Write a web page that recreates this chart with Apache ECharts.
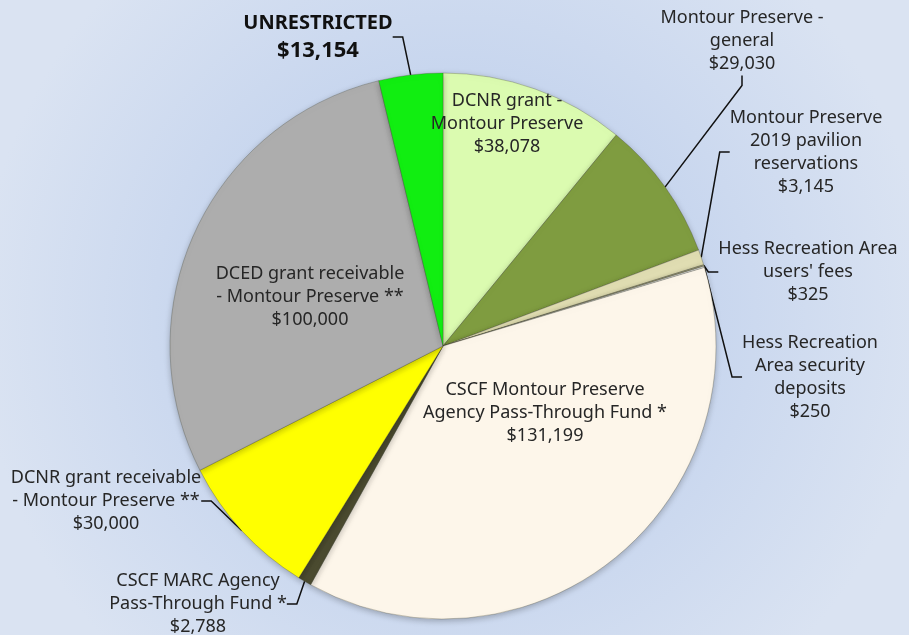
<!DOCTYPE html>
<html lang="en">
<head>
    <meta charset="UTF-8">
    <title>Funds pie</title>
    <style>
        html, body { margin: 0; padding: 0; }
        #main { width: 909px; height: 635px; }
    </style>
</head>
<body>
<script src="https://cdn.jsdelivr.net/npm/echarts@6/dist/echarts.min.js"></script>
<div id="main"></div>
<script>
    // categories, clockwise from 12 o'clock
    var names = [
        'DCNR grant -\nMontour Preserve',
        'Montour Preserve -\ngeneral',
        'Montour Preserve\n2019 pavilion\nreservations',
        'Hess Recreation Area\nusers\' fees',
        'Hess Recreation\nArea security\ndeposits',
        'CSCF Montour Preserve\nAgency Pass-Through Fund *',
        'CSCF MARC Agency\nPass-Through Fund *',
        'DCNR grant receivable\n- Montour Preserve **',
        'DCED grant receivable\n- Montour Preserve **',
        'UNRESTRICTED'
    ];
    var amounts = [38078, 29030, 3145, 325, 250, 131199, 2788, 30000, 100000, 13154];
    var colors = ['#dbfbb0', '#7f9c40', '#e0ddb2', '#9c9a78', '#ffffff',
        '#fdf6ea', '#4b4b30', '#ffff00', '#adadad', '#11ee11'];
    var inside = [true, false, false, false, false, true, false, false, true, false];

    // where each label block sits (center of the text)
    var labelPos = [
        [507, 124], [742, 41], [806, 152], [808, 272], [810, 377],
        [545, 413], [198, 604], [106, 501], [310, 297], [318, 37]
    ];

    function money(v) {
        return '$' + v.toLocaleString('en-US');
    }

    var seriesData = [];
    for (var i = 0; i < names.length; i++) {
        var item = {
            name: names[i],
            value: amounts[i],
            itemStyle: {color: colors[i]},
            labelLine: {show: !inside[i]}
        };
        if (i === names.length - 1) {
            item.label = {
                formatter: '{t|{b}}\n{v|' + money(amounts[i]) + '}'
            };
        }
        seriesData.push(item);
    }

    var myChart = echarts.init(document.getElementById('main'));
    var option = {
        backgroundColor: {
            type: 'radial', x: 0.5, y: 0.5, r: 0.75,
            colorStops: [
                {offset: 0, color: '#b4c8ea'},
                {offset: 1, color: '#dae3f2'}
            ]
        },
        animation: false,
        series: [{
            type: 'pie',
            center: [443, 346],
            radius: 273,
            startAngle: 90,
            clockwise: true,
            avoidLabelOverlap: false,
            data: seriesData,
            itemStyle: {
                borderColor: 'rgba(60,60,40,0.4)',
                borderWidth: 0.7,
                shadowBlur: 6,
                shadowColor: 'rgba(0,0,0,0.25)',
                shadowOffsetY: 2
            },
            label: {
                show: true,
                position: 'outside',
                color: '#262626',
                fontFamily: 'Noto Sans',
                fontSize: 18,
                lineHeight: 23,
                align: 'center',
                formatter: function (p) {
                    return p.name + '\n' + money(p.value);
                },
                rich: {
                    t: {fontWeight: 'bold', fontSize: 20, lineHeight: 28, color: '#111', fontFamily: 'Noto Sans'},
                    v: {fontWeight: 'bold', fontSize: 22, lineHeight: 28, color: '#111', fontFamily: 'Noto Sans'}
                }
            },
            labelLine: {
                show: true,
                length: 10,
                length2: 10,
                lineStyle: {color: '#111', width: 1.5}
            },
            labelLayout: function (params) {
                var p = labelPos[params.dataIndex];
                return {x: p[0], y: p[1], align: 'center', verticalAlign: 'middle'};
            }
        }]
    };
    myChart.setOption(option);
</script>
</body>
</html>
